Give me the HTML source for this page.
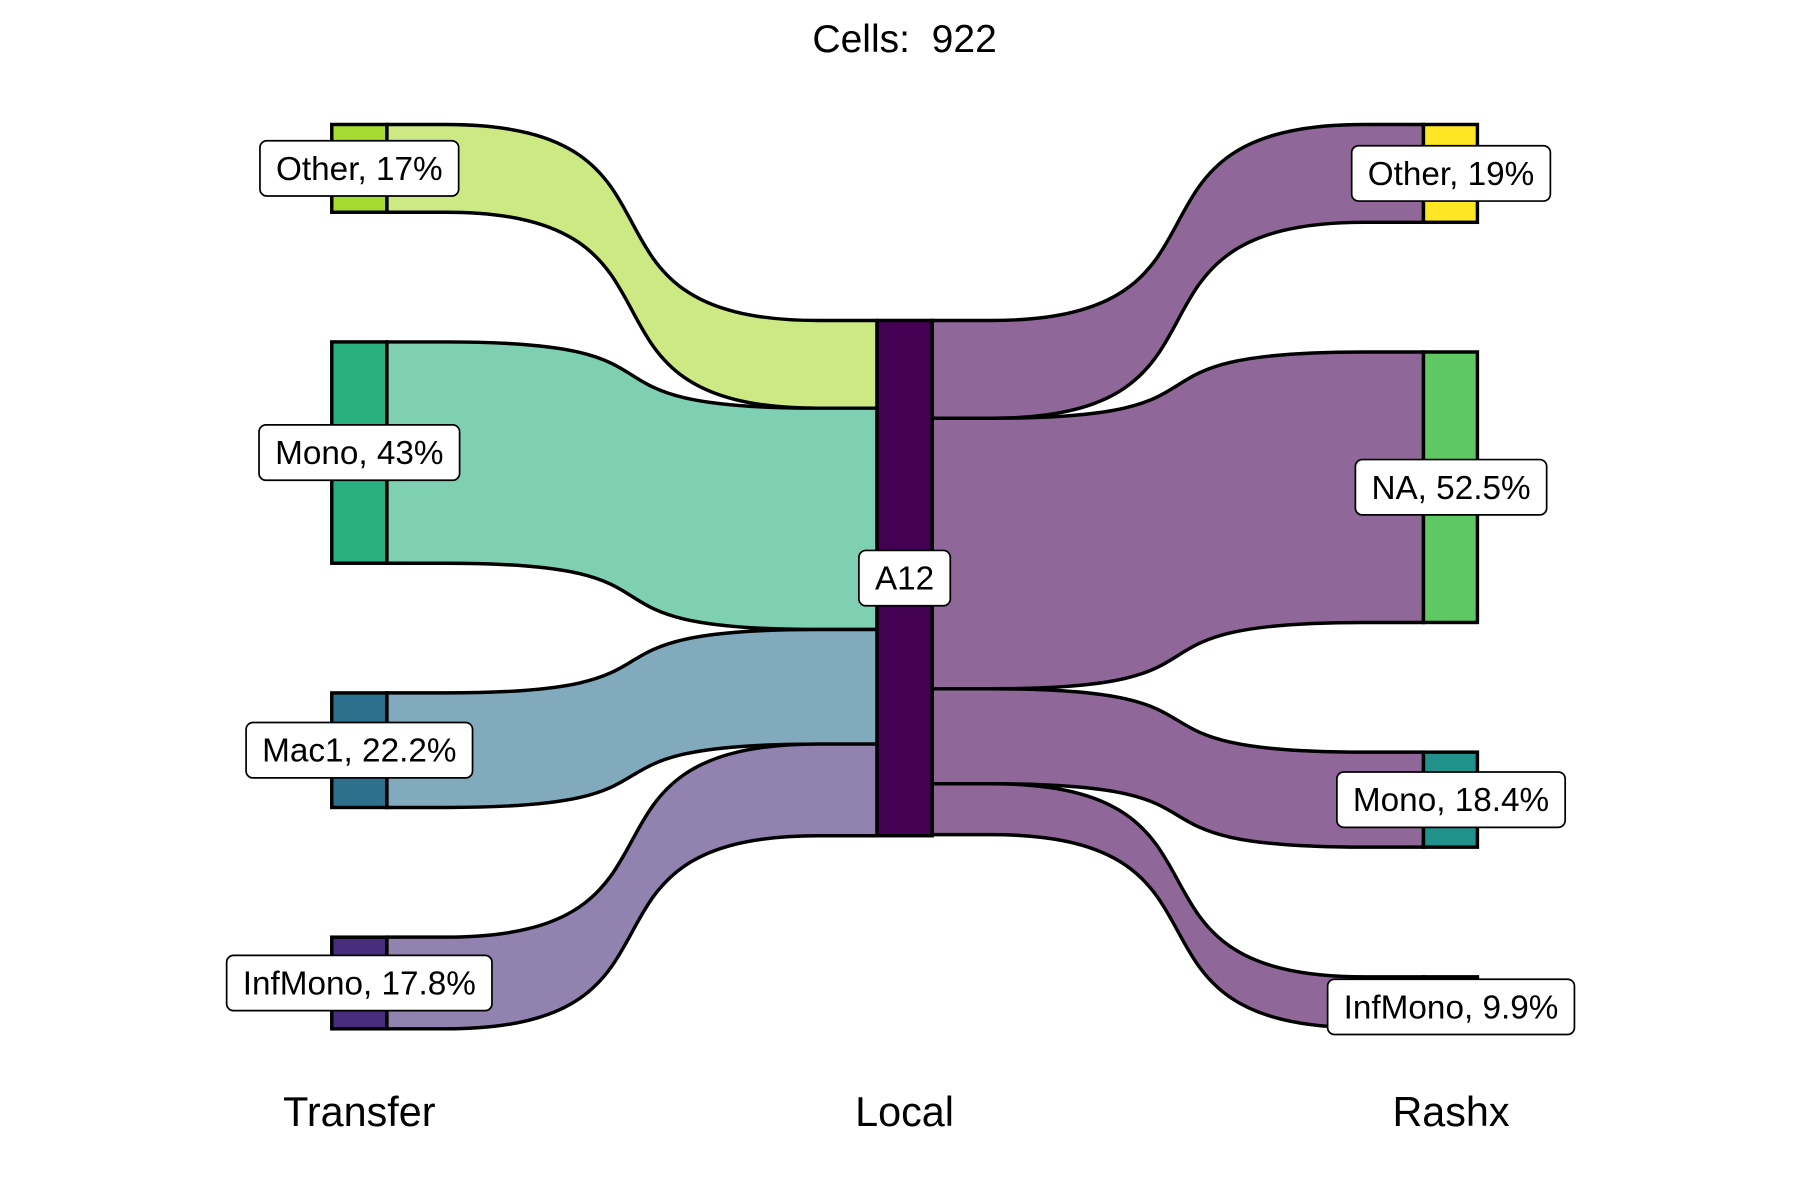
<!DOCTYPE html>
<html><head><meta charset="utf-8"><style>
html,body{margin:0;padding:0;background:#fff}
svg{display:block}
text{font-family:"Liberation Sans",Arial,sans-serif;fill:#000}
</style></head><body>
<svg id="chart" width="1800" height="1200" viewBox="0 0 1568 1041" preserveAspectRatio="none" xmlns="http://www.w3.org/2000/svg">
<text x="788" y="45" font-size="34" text-anchor="middle" style="white-space:pre">Cells:  922</text>
<g id="flows"></g>
<g id="nodes"></g>
<g id="labels"></g>
<text x="313" y="977" font-size="36" text-anchor="middle">Transfer</text>
<text x="788" y="977" font-size="36" text-anchor="middle">Local</text>
<text x="1264" y="977" font-size="36" text-anchor="middle">Rashx</text>
</svg>
<script>
const transferCats = ["Other","Mono","Mac1","InfMono"];
const transferCounts = [157,396,205,164];
const transferPct = ["17%","43%","22.2%","17.8%"];
const localCats = ["A12"];
const rashxCats = ["Other","NA","Mono","InfMono"];
const rashxCounts = [175,484,170,91];
const rashxPct = ["19%","52.5%","18.4%","9.9%"];

const total = 922;
const scale = 447/total;
const gap = 112.5;
const top0 = 108;
const xL=[289,337], xM=[764,812], xR=[1240,1287];
const transferNodeCol=["#a6db31","#29af7f","#2d708e","#472d7b"];
const transferFlowCol=["#cce983","#7fcfb2","#81aabd","#9182b0"];
const rashxNodeCol=["#fde725","#5ec962","#21918c","#3b528b"];
const NS="http://www.w3.org/2000/svg";
const gF=document.getElementById('flows'),gN=document.getElementById('nodes'),gLb=document.getElementById('labels');

function stack(counts){let y=top0,out=[];counts.forEach(c=>{const h=c*scale;out.push([y,y+h]);y+=h+gap;});return out;}
const L=stack(transferCounts), R=stack(rashxCounts);
const localTot=transferCounts.reduce((a,b)=>a+b,0)*scale;
const mid0=278;
const K=0.72, S=0.12;
function seg(x0,x1,y0,y1){const dx=x1-x0;const a=x0+S*dx,b=x1-S*dx,d=b-a;
  return `L${a},${y0} C${a+K*d},${y0} ${b-K*d},${y1} ${b},${y1} L${x1},${y1}`;}
function band(x0,x1,a,b,fill,name){
  const p=document.createElementNS(NS,'path');
  const d=`M${x0},${a[0]} ${seg(x0,x1,a[0],b[0])} L${x1},${b[1]} ${seg(x1,x0,b[1],a[1])} Z`;
  p.setAttribute('d',d);p.setAttribute('fill',fill);p.setAttribute('stroke','#000');p.setAttribute('stroke-width','3');
  
  
  gF.appendChild(p);
}
let ym=mid0;
transferCounts.forEach((c,i)=>{const h=c*scale;band(xL[1],xM[0],L[i],[ym,ym+h],transferFlowCol[i],'flow-transfer-'+transferCats[i].toLowerCase());ym+=h;});
ym=mid0;
rashxCounts.forEach((c,i)=>{const h=c*scale;band(xM[1],xR[0],[ym,ym+h],R[i],'#8f6798','flow-rashx-'+rashxCats[i].toLowerCase());ym+=h;});
function node(x,y0,y1,fill,name){const r=document.createElementNS(NS,'rect');
  r.setAttribute('x',x[0]);r.setAttribute('y',y0);r.setAttribute('width',x[1]-x[0]);r.setAttribute('height',y1-y0);
  r.setAttribute('fill',fill);r.setAttribute('stroke','#000');r.setAttribute('stroke-width','3');
  
  
  gN.appendChild(r);}
L.forEach((s,i)=>node(xL,s[0],s[1],transferNodeCol[i],'node-transfer-'+transferCats[i].toLowerCase()));
node(xM,mid0,mid0+localTot,'#440154','node-local-a12');
R.forEach((s,i)=>node(xR,s[0],s[1],rashxNodeCol[i],'node-rashx-'+rashxCats[i].toLowerCase()));
function label(cx,cy,txt,name){
  const t=document.createElementNS(NS,'text');t.setAttribute('x',cx);t.setAttribute('y',cy+10);t.setAttribute('font-size','29');t.setAttribute('text-anchor','middle');t.textContent=txt;
  
  
  gLb.appendChild(t);
  const w=t.getComputedTextLength()+28;
  const r=document.createElementNS(NS,'rect');r.setAttribute('x',cx-w/2);r.setAttribute('y',cy-24);r.setAttribute('width',w);r.setAttribute('height',48);r.setAttribute('rx',6);
  r.setAttribute('fill','#fff');r.setAttribute('stroke','#000');r.setAttribute('stroke-width','1.5');
  
  
  gLb.insertBefore(r,t);
}
L.forEach((s,i)=>label(313,(s[0]+s[1])/2,transferCats[i]+', '+transferPct[i],'label-transfer-'+transferCats[i].toLowerCase()));
label(788,mid0+localTot/2,localCats[0],'label-local-a12');
R.forEach((s,i)=>label(1264,(s[0]+s[1])/2+(i==3?4:0),rashxCats[i]+', '+rashxPct[i],'label-rashx-'+rashxCats[i].toLowerCase()));
</script>
</body></html>
